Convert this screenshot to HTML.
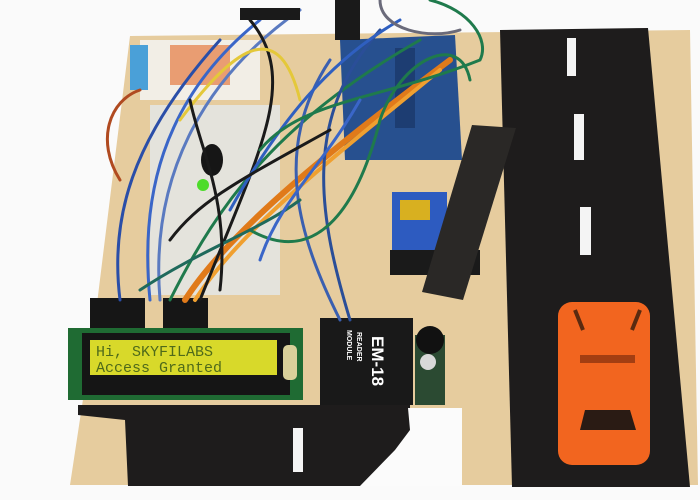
<!DOCTYPE html>
<html><head><meta charset="utf-8"><style>
html,body{margin:0;padding:0;background:#fbfbfb;width:700px;height:500px;overflow:hidden}
svg{display:block}
</style></head><body>
<svg width="700" height="500" viewBox="0 0 700 500" xmlns="http://www.w3.org/2000/svg">
<rect width="700" height="500" fill="#fafafa"/>
<polygon points="130,36 690,30 698,485 70,485 95,320" fill="#e6cc9e"/>
<polygon points="500,30 648,28 690,487 512,487" fill="#1e1c1c"/>
<rect x="567" y="38" width="9" height="38" fill="#f4f4f4"/>
<rect x="574" y="114" width="10" height="46" fill="#f4f4f4"/>
<rect x="580" y="207" width="11" height="48" fill="#f4f4f4"/>
<rect x="558" y="302" width="92" height="163" rx="14" fill="#f2651f"/>
<rect x="580" y="355" width="55" height="8" fill="#a33e12"/>
<polygon points="585,410 630,410 636,430 580,430" fill="#2a1b14"/>
<path d="M575,310 l8,20 M640,310 l-8,20" stroke="#5a2a10" stroke-width="4"/>
<polygon points="78,405 410,405 410,408 460,408 460,486 128,486 125,420 78,415" fill="#1e1c1c"/>
<polygon points="408,408 462,408 462,486 360,486 395,450 410,430" fill="#fbfbfb"/>
<rect x="293" y="428" width="10" height="44" fill="#f4f4f4"/>
<rect x="68" y="328" width="235" height="72" fill="#1f6b33"/>
<rect x="82" y="333" width="208" height="62" fill="#151515"/>
<rect x="90" y="340" width="187" height="35" fill="#d8d92a"/>
<text x="96" y="356" font-family="Liberation Mono, monospace" font-size="15" fill="#4f6a1a">Hi, SKYFILABS</text>
<text x="96" y="372" font-family="Liberation Mono, monospace" font-size="15" fill="#4f6a1a">Access Granted</text>
<rect x="283" y="345" width="14" height="35" rx="5" fill="#d9d09a"/>
<rect x="90" y="298" width="55" height="30" fill="#161616"/>
<rect x="163" y="298" width="45" height="30" fill="#161616"/>
<rect x="320" y="318" width="93" height="87" fill="#191919"/>
<text transform="translate(372,336) rotate(90)" font-family="Liberation Sans, sans-serif" font-size="17" font-weight="bold" fill="#fff">EM-18</text>
<text transform="translate(357,332) rotate(90)" font-family="Liberation Sans, sans-serif" font-size="7" font-weight="bold" fill="#fff">READER</text>
<text transform="translate(347,330) rotate(90)" font-family="Liberation Sans, sans-serif" font-size="7" font-weight="bold" fill="#fff">MODULE</text>
<rect x="415" y="335" width="30" height="70" fill="#2b4a32"/>
<circle cx="430" cy="340" r="14" fill="#111"/>
<circle cx="428" cy="362" r="8" fill="#d8d8d8"/>
<rect x="150" y="105" width="130" height="190" fill="#e4e3dc"/>
<rect x="140" y="40" width="120" height="60" fill="#f2eee6"/>
<rect x="170" y="45" width="60" height="40" fill="#e67a40" opacity="0.7"/>
<rect x="130" y="45" width="18" height="45" fill="#4aa0d8"/>
<ellipse cx="212" cy="160" rx="11" ry="16" fill="#161616"/>
<circle cx="203" cy="185" r="6" fill="#4ddc2a"/>
<polygon points="340,40 455,35 462,160 345,160" fill="#27508f"/>
<rect x="395" y="48" width="20" height="80" fill="#1d3d72"/>
<rect x="335" y="0" width="25" height="40" fill="#1a1a1a"/>
<rect x="392" y="192" width="55" height="60" fill="#2d5bc0"/>
<rect x="400" y="200" width="30" height="20" fill="#d8b020"/>
<rect x="390" y="250" width="90" height="25" fill="#1a1a1a"/>
<polygon points="472,125 516,128 463,300 422,292" fill="#2a2826"/>
<g fill="none" stroke-width="3" stroke-linecap="round">
<path d="M150,300 C140,200 160,100 260,20" stroke="#3a66c8"/>
<path d="M160,300 C150,180 200,80 300,10" stroke="#5a7ac0"/>
<path d="M120,300 C110,220 130,140 220,40" stroke="#2a4ea8"/>
<path d="M170,300 C220,200 280,120 420,40" stroke="#1f7a4c"/>
<path d="M185,300 C230,230 330,150 450,60" stroke="#e07a1a" stroke-width="6"/>
<path d="M195,300 C240,230 330,160 440,70" stroke="#f0a030" stroke-width="4"/>
<path d="M200,300 C260,150 300,80 250,20" stroke="#1a1a1a"/>
<path d="M340,320 C300,240 270,150 330,60" stroke="#3a5fb0"/>
<path d="M350,320 C320,220 300,120 380,30" stroke="#2a4e98"/>
<path d="M250,230 C320,270 360,200 380,120 C400,60 460,30 470,80" stroke="#1f7a4c"/>
<path d="M180,120 C240,40 280,20 300,100" stroke="#e4c83a"/>
<path d="M120,180 C95,140 110,100 140,90" stroke="#b04a20"/>
<path d="M230,210 C280,120 330,60 400,20" stroke="#2f5fc0"/>
<path d="M260,150 C300,100 380,100 480,60 C490,40 470,10 430,0" stroke="#1f7a4c"/>
<path d="M380,0 C380,30 430,40 460,30" stroke="#6a6a7a"/>
<path d="M170,240 C200,200 240,180 330,130" stroke="#1a1a1a"/>
<path d="M140,290 C200,250 260,230 300,200" stroke="#1f6a5c"/>
<path d="M220,290 C230,200 200,150 190,100" stroke="#1a1a1a"/>
<path d="M260,260 C280,200 320,170 360,100" stroke="#3a66c8"/>
</g>
<rect x="240" y="8" width="60" height="12" fill="#1a1a1a"/>
</svg>
</body></html>
